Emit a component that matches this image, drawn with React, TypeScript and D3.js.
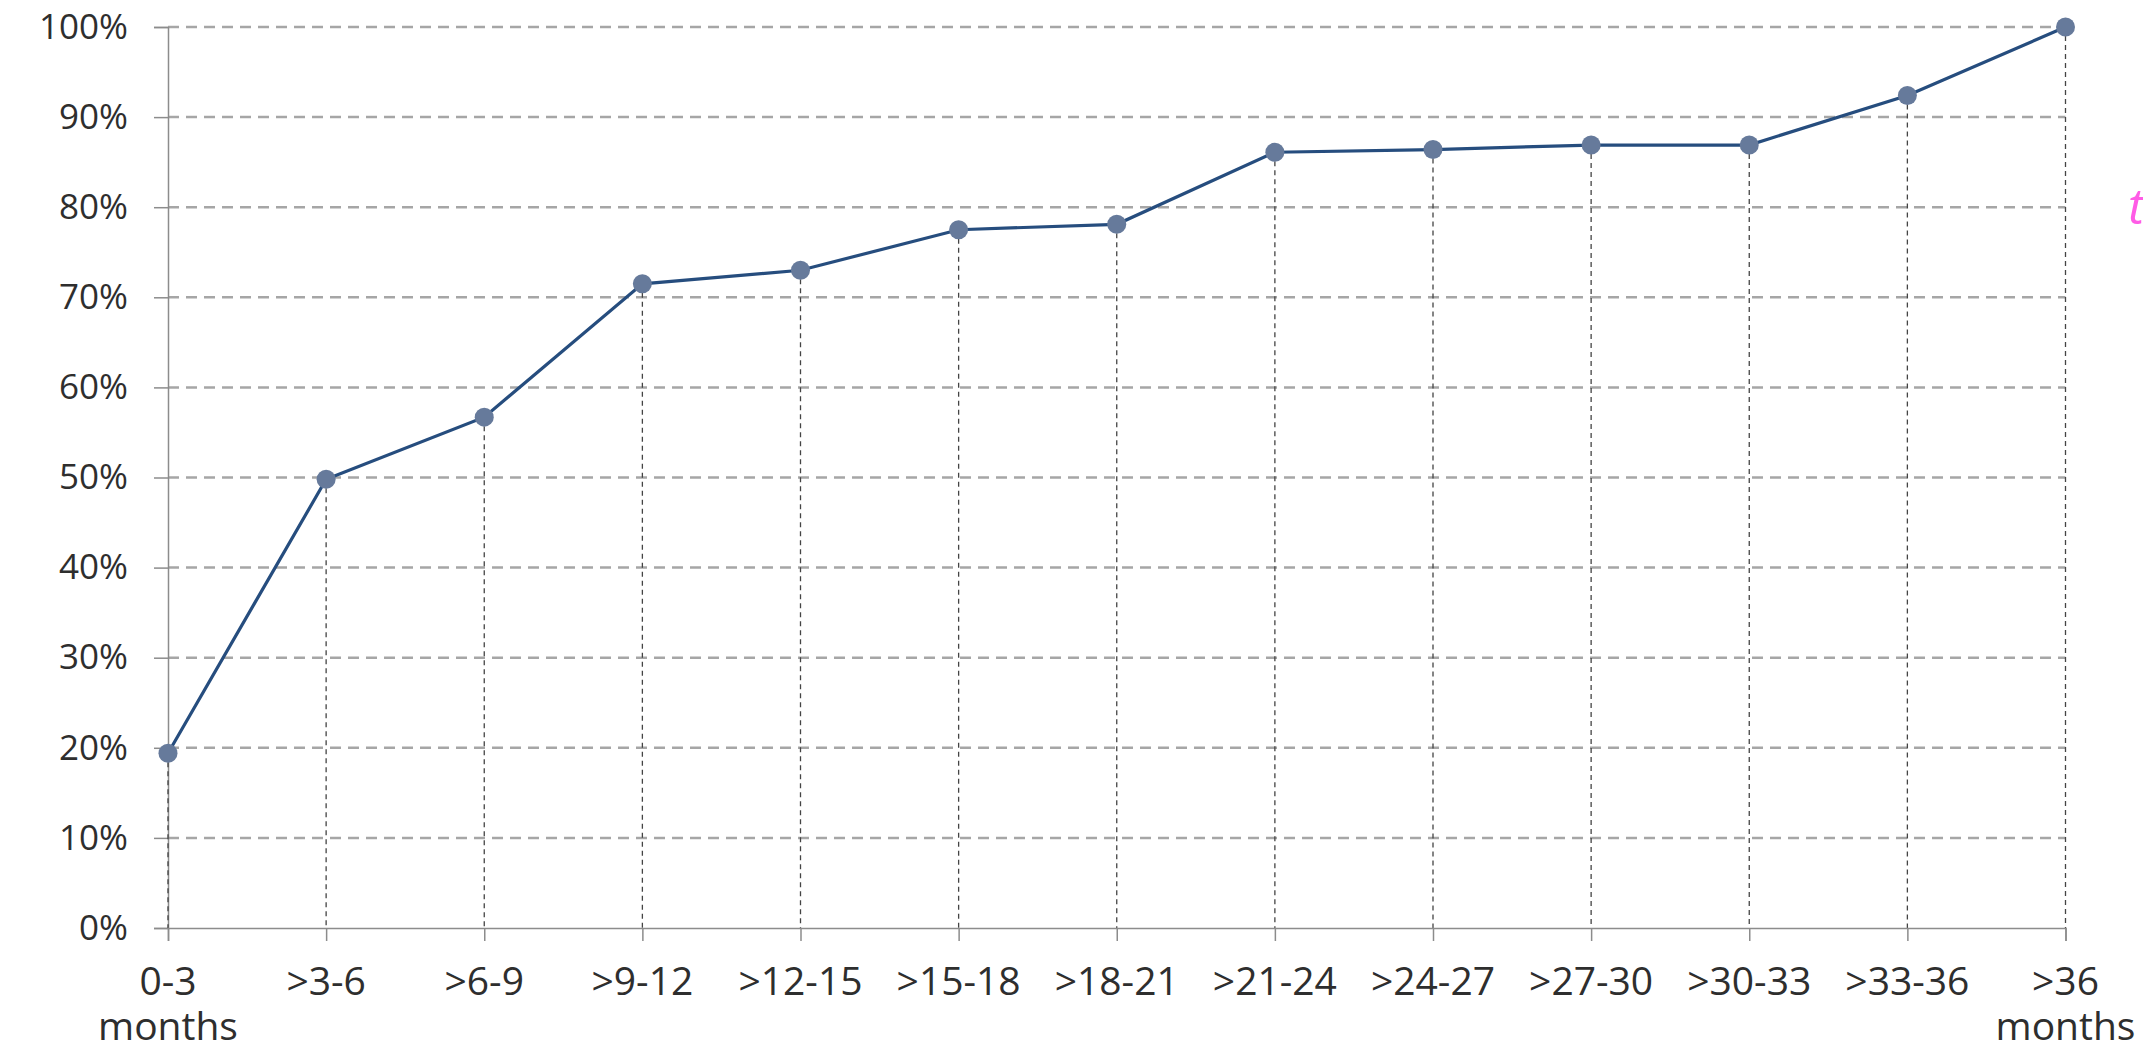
import React, { useEffect, useRef } from 'react';
import * as d3 from 'd3';

const categories = ['0-3', '>3-6', '>6-9', '>9-12', '>12-15', '>15-18', '>18-21', '>21-24', '>24-27', '>27-30', '>30-33', '>33-36', '>36'];
const secondLine = ['months', '', '', '', '', '', '', '', '', '', '', '', 'months'];
const cumulativeShare = [0.194, 0.498, 0.567, 0.715, 0.730, 0.775, 0.781, 0.861, 0.864, 0.869, 0.869, 0.924, 1.0];
const yTicks = [0, 0.1, 0.2, 0.3, 0.4, 0.5, 0.6, 0.7, 0.8, 0.9, 1.0];

const CumulativeChart = () => {
    const svgRef = useRef<SVGSVGElement>(null);

    useEffect(() => {
        const width = 2143;
        const height = 1048;
        const margin = { top: 27, right: 77.5, bottom: 120, left: 168 };
        const font = '"Open Sans", sans-serif';

        const svg = d3.select(svgRef.current);
        svg.selectAll('*').remove();
        svg.attr('width', width).attr('height', height);

        const x = d3
            .scalePoint<string>()
            .domain(categories)
            .range([margin.left, width - margin.right]);

        const y = d3
            .scaleLinear()
            .domain([0, 1])
            .range([height - margin.bottom, margin.top]);

        // horizontal dashed gridlines
        svg
            .append('g')
            .selectAll('line')
            .data(yTicks.filter(d => d > 0))
            .enter()
            .append('line')
            .attr('x1', margin.left)
            .attr('x2', width - margin.right)
            .attr('y1', d => y(d))
            .attr('y2', d => y(d))
            .attr('stroke', '#a6a6a6')
            .attr('stroke-width', 2.5)
            .attr('stroke-dasharray', '11 7');

        // y axis
        const yAxis = svg
            .append('g')
            .attr('transform', `translate(${margin.left},0)`)
            .call(
                d3
                    .axisLeft(y)
                    .tickValues(yTicks)
                    .tickFormat(d3.format('.0%'))
                    .tickSize(14)
                    .tickPadding(26)
            );
        yAxis.select('.domain').attr('stroke', '#8c8c8c').attr('stroke-width', 1.5);
        yAxis.selectAll('.tick line').attr('stroke', '#8c8c8c').attr('stroke-width', 1.5);
        yAxis
            .selectAll('.tick text')
            .attr('fill', '#2e2e2e')
            .style('font-family', font)
            .style('font-size', '35px');

        // vertical dashed drop lines
        svg
            .append('g')
            .selectAll('line')
            .data(categories)
            .enter()
            .append('line')
            .attr('x1', d => x(d)!)
            .attr('x2', d => x(d)!)
            .attr('y1', (d, i) => y(cumulativeShare[i]))
            .attr('y2', y(0))
            .attr('stroke', '#444')
            .attr('stroke-width', 1.3)
            .attr('stroke-dasharray', '5 4');

        // x axis
        const xAxis = svg
            .append('g')
            .attr('transform', `translate(0,${y(0)})`)
            .call(d3.axisBottom(x).tickSize(13).tickFormat(() => ''));
        xAxis.select('.domain').attr('stroke', '#8c8c8c').attr('stroke-width', 1.5);
        xAxis.selectAll('.tick line').attr('stroke', '#8c8c8c').attr('stroke-width', 1.5);

        const labels = svg.append('g').attr('fill', '#2e2e2e').style('font-family', font).style('font-size', '39px');
        labels
            .selectAll('text.l1')
            .data(categories)
            .enter()
            .append('text')
            .attr('class', 'l1')
            .attr('x', d => x(d)!)
            .attr('y', y(0) + 67)
            .attr('text-anchor', 'middle')
            .text(d => d);
        labels
            .selectAll('text.l2')
            .data(categories)
            .enter()
            .append('text')
            .attr('class', 'l2')
            .attr('x', d => x(d)!)
            .attr('y', y(0) + 112)
            .attr('text-anchor', 'middle')
            .text((d, i) => secondLine[i]);

        // line
        const line = d3
            .line<number>()
            .x((d, i) => x(categories[i])!)
            .y(d => y(d));

        svg
            .append('path')
            .datum(cumulativeShare)
            .attr('d', line)
            .attr('fill', 'none')
            .attr('stroke', '#264d7e')
            .attr('stroke-width', 3.2);

        svg
            .append('g')
            .selectAll('circle')
            .data(cumulativeShare)
            .enter()
            .append('circle')
            .attr('cx', (d, i) => x(categories[i])!)
            .attr('cy', d => y(d))
            .attr('r', 9.5)
            .attr('fill', '#667a9b');

        // clipped annotation at the right edge
        svg
            .append('text')
            .attr('x', 2128)
            .attr('y', 224)
            .attr('fill', '#ff5ce6')
            .style('font-family', font)
            .style('font-style', 'italic')
            .style('font-size', '50px')
            .text('t');
    }, []);

    return <svg ref={svgRef} style={{ position: 'absolute', left: 0, top: 0 }}></svg>;
};

export default function App() {
    return <CumulativeChart />;
}
